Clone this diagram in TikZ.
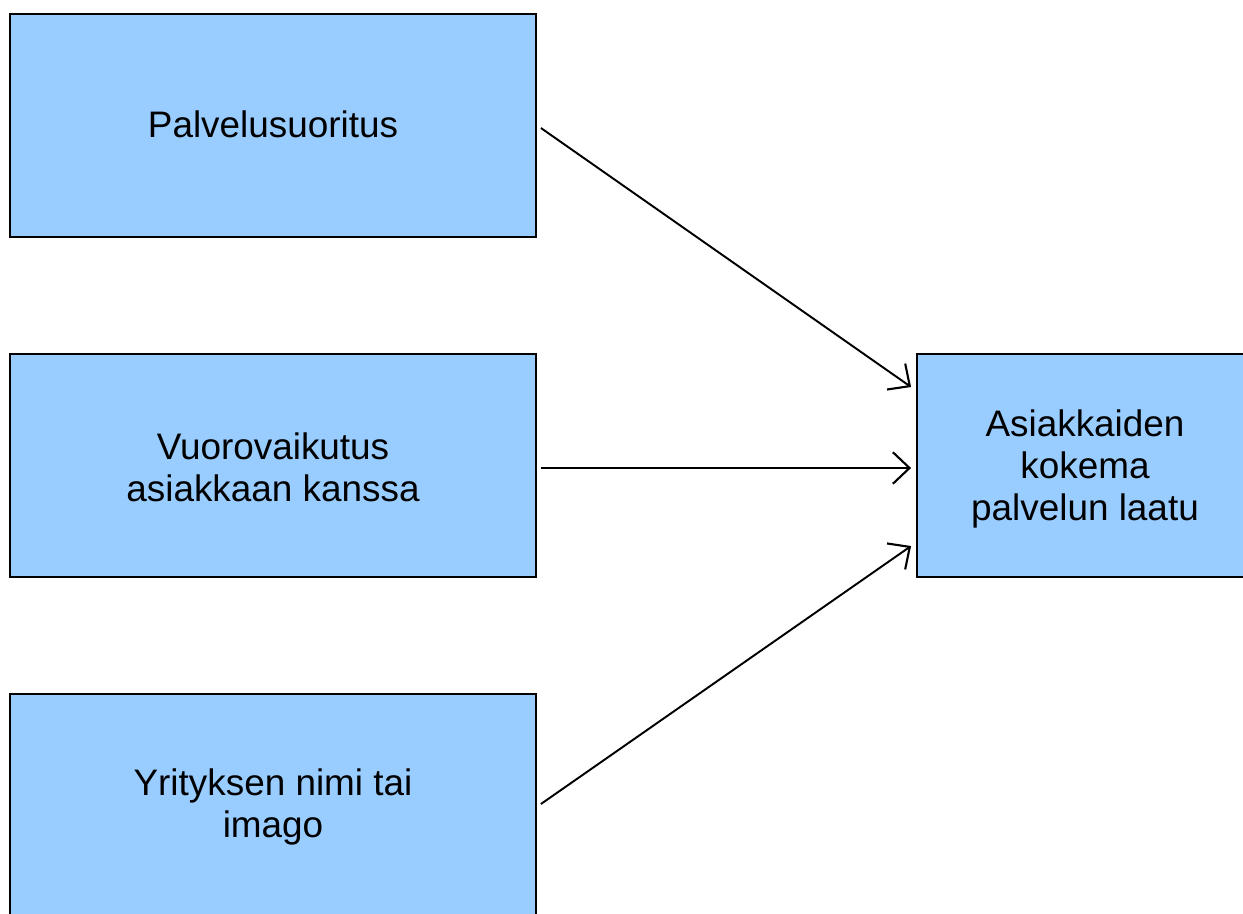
\documentclass[tikz,border=0pt]{standalone}
\usepackage{fontspec}
\setmainfont{Liberation Sans}
\usetikzlibrary{arrows.meta}
\definecolor{boxfill}{HTML}{99CCFF}
\begin{document}
\begin{tikzpicture}[x=0.02cm,y=0.02cm,
  factor/.style={draw=black, line width=1.1pt, fill=boxfill,
    minimum width=10.52cm, minimum height=4.46cm, inner sep=0pt},
  caption/.style={align=center, inner sep=0pt, yshift=-0.04cm,
    font=\fontsize{21pt}{24pt}\selectfont},
  link/.style={line width=1.1pt, -{Straight Barb[length=9.5pt,width=18pt,line width=1.2pt]}}]
\useasboundingbox (0,0) rectangle (1243,-913);
\begin{scope}
\clip (0,0) rectangle (1243,-913);
\node[factor] (perf) at (273,-125.5) {};
\node[factor] (inter) at (273,-465.5) {};
\node[factor] (image) at (273,-805) {};
\node[factor, minimum width=6.72cm] (quality) at (1085,-465.5) {};
\end{scope}
\node[caption, yshift=0.06cm] (perf-text) at (perf.center) {Palvelusuoritus};
\node[caption] (inter-text) at (inter.center) {Vuorovaikutus\\asiakkaan kanssa};
\node[caption] (image-text) at (image.center) {Yrityksen nimi tai\\imago};
\node[caption, yshift=-0.03cm] (quality-text) at (quality.center) {Asiakkaiden\\kokema\\palvelun laatu};
\draw[link] ([xshift=0.08cm]perf.east |- 0,-128) -- ([xshift=-0.1cm]quality.west |- 0,-387);
\draw[link] ([xshift=0.08cm]inter.east |- 0,-468) -- ([xshift=-0.1cm]quality.west |- 0,-468);
\draw[link] ([xshift=0.08cm]image.east |- 0,-804) -- ([xshift=-0.1cm]quality.west |- 0,-546);
\end{tikzpicture}
\end{document}
